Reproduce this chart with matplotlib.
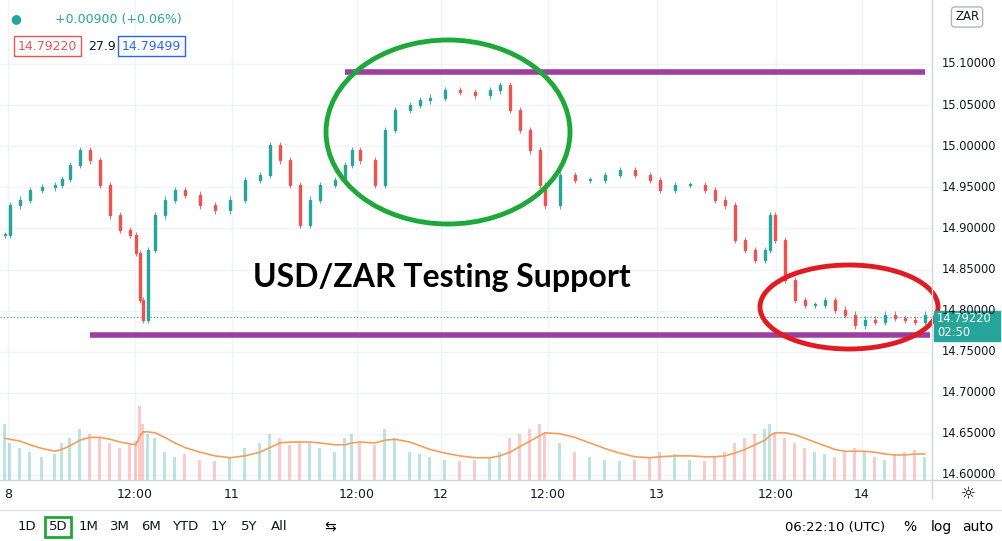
import matplotlib
matplotlib.use("Agg")
import matplotlib.pyplot as plt
from matplotlib.patches import Ellipse, Rectangle

# time (chart units) and close prices
t = [5,10,20,30,42,55,62,70,80,90,100,110,120,130,136,140,143,148,155,165,175,185,200,215,230,245,260,270,280,290,300,310,320,335,345,352,360,375,385,395,410,420,430,445,460,475,490,500,510,520,530,540,545,560,575,590,605,620,635,650,660,675,690,705,715,725,735,745,755,765,770,775,785,795,805,815,825,835,845,855,865,875,885,895,905,915,925]
close = [14.892,14.928,14.935,14.947,14.950,14.953,14.960,14.977,14.995,14.983,14.953,14.916,14.898,14.892,14.870,14.813,14.789,14.874,14.916,14.935,14.947,14.941,14.928,14.922,14.935,14.959,14.965,15.001,14.983,14.953,14.904,14.935,14.953,14.959,14.977,14.995,14.983,14.953,15.020,15.044,15.050,15.056,15.059,15.068,15.066,15.062,15.068,15.074,15.044,15.020,14.995,14.953,14.928,14.965,14.959,14.959,14.965,14.971,14.965,14.959,14.947,14.953,14.953,14.947,14.935,14.928,14.886,14.874,14.862,14.874,14.916,14.886,14.837,14.813,14.807,14.807,14.813,14.801,14.795,14.782,14.789,14.786,14.795,14.791,14.789,14.786,14.795]
volume = [60,40,35,30,25,28,40,45,55,50,45,40,35,38,42,80,60,50,45,30,25,28,22,20,25,35,40,50,45,38,42,40,35,30,45,50,40,38,55,45,30,28,25,22,20,22,25,30,45,50,55,60,50,40,30,25,22,20,22,25,30,28,22,20,25,30,40,45,50,55,60,50,45,40,35,30,28,25,30,35,30,25,22,28,30,32,25]
vol_ma = [45,44,42,38,34,31,33,37,43,46,46,44,41,39,38,48,52,52,51,46,40,35,30,26,24,26,30,35,40,41,41,41,40,38,38,40,41,40,43,44,41,37,33,29,26,24,24,26,30,36,42,48,51,50,46,40,34,29,25,24,25,26,26,25,25,26,29,33,38,43,48,51,51,49,45,41,37,33,31,31,31,30,28,27,27,28,28]
day_labels = ["8","12:00","11","12:00","12","12:00","13","12:00","14"]
day_pos = [8,135,232,357,441,548,657,776,862]
price_ticks = [14.60,14.65,14.70,14.75,14.80,14.85,14.90,14.95,15.00,15.05,15.10]
support, resistance = 14.770, 15.090

fig = plt.figure(figsize=(10.02,5.41), dpi=100)
ax = fig.add_axes([0,0.113,0.930,0.887])
ax.set_xlim(0,932); ax.set_ylim(14.594,15.178)
up, dn = "#26a69a", "#ef5350"
w = 2.5
prev = close[0]
for i,(x,c) in enumerate(zip(t,close)):
    o = prev
    col = up if c >= o else dn
    ax.vlines(x, min(o,c)-0.004, max(o,c)+0.004, color=col, lw=0.6, zorder=3)
    ax.add_patch(Rectangle((x-w/2, min(o,c)), w, max(abs(c-o),0.0008), color=col, zorder=3))
    prev = c
vax = ax.twinx()
vax.set_ylim(0, 520); vax.axis("off")
vcols = [up if (close[i] >= (close[i-1] if i else close[0])) else dn for i in range(len(t))]
vax.bar(t, volume, width=3, color=vcols, alpha=0.3)
vax.plot(t, vol_ma, color="#f0a05a", lw=1.2)
vax.set_xlim(0,932)

for s in ax.spines.values(): s.set_visible(False)
ax.set_xticks(day_pos); ax.set_yticks(price_ticks)
ax.grid(color="#f0f3fa", lw=1)
ax.tick_params(length=0, labelbottom=False, labelleft=False)
for p,l in zip(day_pos,day_labels):
    fig.text(p/1002, 1-494/541, l, fontsize=9, color="#131722", ha="center", va="center")
for v in price_ticks:
    y = 475 - (v-14.60)/0.05*41.1
    fig.text(942/1002, 1-y/541, f"{v:.5f}", fontsize=8.3, color="#131722", va="center")
fig.add_artist(plt.Line2D([932/1002]*2,[0.08,1], color="#d1d4dc", lw=1))
fig.add_artist(plt.Line2D([0,1],[1-480/541]*2, color="#d1d4dc", lw=1))
fig.add_artist(plt.Line2D([0,1],[1-510/541]*2, color="#e0e3eb", lw=1))

ax.plot([345,925],[resistance]*2, color="#9c3fa0", lw=4, solid_capstyle="butt", zorder=5)
ax.plot([90,930],[support]*2, color="#9c3fa0", lw=4, solid_capstyle="butt", zorder=5)
ax.axhline(14.7922, color="#26a69a", lw=0.8, ls=(0,(1,2)))
def pe(cx,cy,wd,ht,col):
    fig.add_artist(Ellipse((cx/1002,1-cy/541), wd/1002, ht/541, fill=False, ec=col, lw=3.5, transform=fig.transFigure))
pe(448,132,244,184,"#1fa83a")
pe(849,307,178,84,"#e01b22")
fig.text(442/1002, 1-278/541, "USD/ZAR Testing Support", fontsize=23, fontweight="bold", family="Lato", ha="center", va="center")

fig.patches.append(Rectangle((934/1002,1-341/541),66/1002,30/541, color="#26a69a", transform=fig.transFigure))
fig.text(937/1002,1-318/541,"14.79220",fontsize=8.3,color="white",va="center")
fig.text(937/1002,1-333/541,"02:50",fontsize=8.3,color="white",va="center")
fig.text(955/1002,1-17/541,"ZAR",fontsize=8.5,color="#131722",va="center",
         bbox=dict(boxstyle="round,pad=0.3",fc="white",ec="#b2b5be"))
fig.text(10/1002,1-19/541,"●",fontsize=9,color="#26a69a",va="center")
fig.text(55/1002,1-19/541,"+0.00900 (+0.06%)",fontsize=9,color="#26a69a",va="center")
fig.text(18/1002,1-46/541,"14.79220",fontsize=9,color="#ef5350",va="center",
         bbox=dict(boxstyle="square,pad=0.3",fc="white",ec="#ef5350"))
fig.text(88/1002,1-46/541,"27.9",fontsize=9,color="#131722",va="center")
fig.text(122/1002,1-46/541,"14.79499",fontsize=9,color="#2962ff",va="center",
         bbox=dict(boxstyle="square,pad=0.3",fc="white",ec="#2962ff"))
for lab,x in zip(["1D","5D","1M","3M","6M","YTD","1Y","5Y","All"],[27,58,89,120,151,185,219,249,279]):
    fig.text(x/1002,1-527/541,lab,fontsize=9.5,color="#131722",ha="center",va="center",
             bbox=dict(boxstyle="square,pad=0.25",fc="white",ec="#1fa83a",lw=2) if lab=="5D" else None)
fig.text(330/1002,1-527/541,"⇆",fontsize=10,ha="center",va="center")
fig.text(835/1002,1-527/541,"06:22:10 (UTC)",fontsize=9.5,ha="center",va="center")
fig.text(910/1002,1-527/541,"%",fontsize=10,ha="center",va="center")
fig.text(941/1002,1-527/541,"log",fontsize=10,ha="center",va="center")
fig.text(978/1002,1-527/541,"auto",fontsize=10,ha="center",va="center")
fig.text(968/1002,1-494/541,"☼",fontsize=12,ha="center",va="center")
fig.savefig("out.png", dpi=100, facecolor="white")
